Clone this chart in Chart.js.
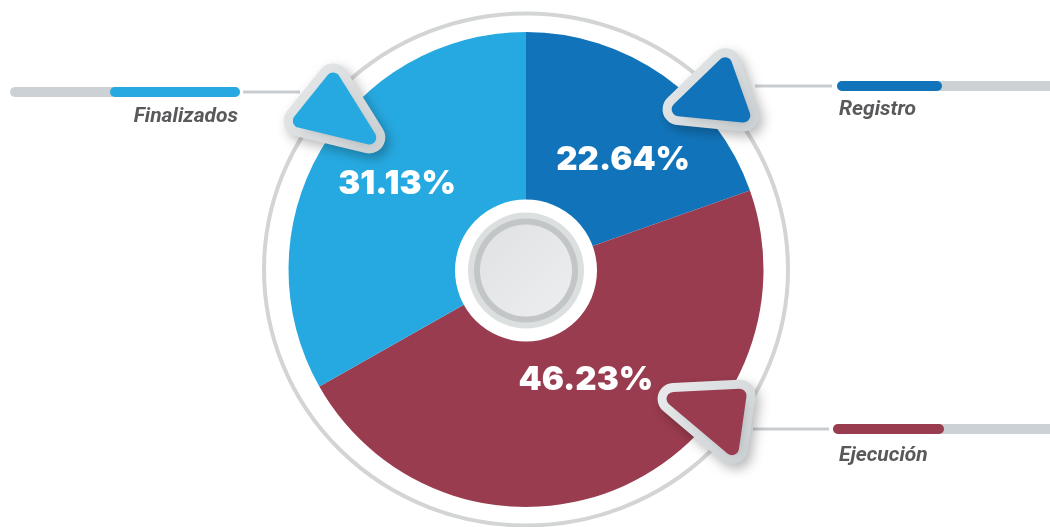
<!DOCTYPE html>
<html>
<head>
<meta charset="utf-8">
<script src="https://cdn.jsdelivr.net/npm/chart.js@4.4.1/dist/chart.umd.min.js"></script>
<style>
  html, body { margin: 0; padding: 0; background: #fff; }
  #wrap { width: 1050px; height: 527px; }
</style>
</head>
<body>
<div id="wrap"><canvas id="pie" width="1050" height="527"></canvas></div>
<script>
// datos del gráfico
const categories = ['Registro', 'Ejecución', 'Finalizados'];
// porcentajes impresos en el gráfico
const percentages = [22.64, 46.23, 31.13];
// tamaño de las porciones tal como están dibujadas en la imagen (no coincide del todo con el texto)
const sliceShares = [19.6, 47.2, 33.2];
const sliceColors = ['#1174ba', '#9a3c4f', '#26a9e0'];

// posición de las etiquetas (ángulo desde arriba en grados, radio relativo)
const labelSpots = [
    { angle: 41.7, r: 0.615 },
    { angle: 151.6, r: 0.53 },
    { angle: 303.4, r: 0.65 }
];

// flechas (triángulos) relativos al centro del pastel
const pointers = [
    [[146, -158], [201, -212], [223, -150]],
    [[141, 127], [219, 122], [209, 185]],
    [[-233, -147], [-193, -197], [-151, -128]]
];

// leyenda: barra y texto
const legendItems = [
    { bar: [837, 1070], fill: [837, 942], y: 86, lead: [755, 832], text: [839, 115], align: 'left' },
    { bar: [833, 1070], fill: [833, 944], y: 429, lead: [753, 829], text: [839, 461], align: 'left' },
    { bar: [10, 240], fill: [110, 240], y: 92, lead: [243, 300], text: [238, 122], align: 'right' }
];

function shrink(pts, d) {
    const cx = (pts[0][0] + pts[1][0] + pts[2][0]) / 3;
    const cy = (pts[0][1] + pts[1][1] + pts[2][1]) / 3;
    return pts.map(p => {
        const dx = cx - p[0], dy = cy - p[1];
        const len = Math.hypot(dx, dy);
        return [p[0] + dx / len * d, p[1] + dy / len * d];
    });
}

function triPath(ctx, pts) {
    ctx.beginPath();
    ctx.moveTo(pts[0][0], pts[0][1]);
    ctx.lineTo(pts[1][0], pts[1][1]);
    ctx.lineTo(pts[2][0], pts[2][1]);
    ctx.closePath();
}

function drawPointer(ctx, cx, cy, rel, color) {
    const rad = 7, border = 9;
    const visible = rel.map(p => [cx + p[0], cy + p[1]]);
    const core = shrink(visible, rad);
    const xs = visible.map(p => p[0]), ys = visible.map(p => p[1]);
    const grad = ctx.createLinearGradient(Math.min(...xs), Math.min(...ys), Math.max(...xs), Math.max(...ys));
    grad.addColorStop(0, '#e6e8e9');
    grad.addColorStop(1, '#cdd2d4');

    ctx.save();
    ctx.lineJoin = 'round';
    ctx.shadowColor = 'rgba(0,0,0,0.28)';
    ctx.shadowBlur = 12;
    ctx.shadowOffsetX = 4;
    ctx.shadowOffsetY = 5;
    triPath(ctx, core);
    ctx.lineWidth = 2 * (rad + border);
    ctx.strokeStyle = grad;
    ctx.fillStyle = grad;
    ctx.stroke();
    ctx.fill();
    ctx.restore();

    ctx.save();
    ctx.lineJoin = 'round';
    triPath(ctx, core);
    ctx.lineWidth = 2 * rad;
    ctx.strokeStyle = color;
    ctx.fillStyle = color;
    ctx.stroke();
    ctx.fill();
    ctx.restore();
}

function bar(ctx, x1, x2, y, w, color) {
    ctx.beginPath();
    ctx.moveTo(x1 + w / 2, y);
    ctx.lineTo(x2 - w / 2, y);
    ctx.lineWidth = w;
    ctx.lineCap = 'round';
    ctx.strokeStyle = color;
    ctx.stroke();
}

const decoPlugin = {
    id: 'deco',
    beforeDatasetsDraw(chart) {
        const ctx = chart.ctx;
        const arc = chart.getDatasetMeta(0).data[0];
        const { x, y } = arc.getProps(['x', 'y'], true);

        ctx.save();
        // anillo exterior
        ctx.beginPath();
        ctx.ellipse(x, y, 262, 256, 0, 0, Math.PI * 2);
        ctx.lineWidth = 4;
        ctx.strokeStyle = '#d3d5d5';
        ctx.stroke();

        // líneas guía y barras de leyenda
        legendItems.forEach((it, i) => {
            ctx.beginPath();
            ctx.moveTo(it.lead[0], it.y);
            ctx.lineTo(it.lead[1], it.y);
            ctx.lineWidth = 3;
            ctx.lineCap = 'butt';
            ctx.strokeStyle = '#c9cdd0';
            ctx.stroke();

            bar(ctx, it.bar[0], it.bar[1], it.y, 10, '#cbd1d4');
            bar(ctx, it.fill[0], it.fill[1], it.y, 10, sliceColors[i]);

            ctx.font = 'italic 700 21px Roboto, "Open Sans", sans-serif';
            ctx.fillStyle = '#58595b';
            ctx.textAlign = it.align;
            ctx.textBaseline = 'alphabetic';
            ctx.fillText(categories[i], it.text[0], it.text[1]);
        });
        ctx.restore();
    },
    afterDatasetsDraw(chart) {
        const ctx = chart.ctx;
        const meta = chart.getDatasetMeta(0);
        const { x, y, outerRadius } = meta.data[0].getProps(['x', 'y', 'outerRadius'], true);

        // círculo central
        ctx.save();
        ctx.beginPath();
        ctx.arc(x, y + 1, 71, 0, Math.PI * 2);
        ctx.fillStyle = '#ffffff';
        ctx.fill();
        ctx.beginPath();
        ctx.arc(x, y + 1, 58, 0, Math.PI * 2);
        ctx.fillStyle = '#dcdfe0';
        ctx.fill();
        ctx.beginPath();
        ctx.arc(x, y + 1, 52, 0, Math.PI * 2);
        ctx.fillStyle = '#c3c6c6';
        ctx.fill();
        const g = ctx.createLinearGradient(x - 46, y - 46, x + 46, y + 46);
        g.addColorStop(0, '#dfe1e2');
        g.addColorStop(1, '#eceeef');
        ctx.beginPath();
        ctx.arc(x, y + 1, 46, 0, Math.PI * 2);
        ctx.fillStyle = g;
        ctx.fill();
        ctx.restore();

        // porcentajes
        ctx.save();
        ctx.font = '900 33px Inter, Lato, "Open Sans", sans-serif';
        ctx.fillStyle = '#ffffff';
        ctx.textAlign = 'center';
        ctx.textBaseline = 'middle';
        percentages.forEach((v, i) => {
            const a = (labelSpots[i].angle - 90) * Math.PI / 180;
            const r = labelSpots[i].r * outerRadius;
            ctx.fillText(v.toFixed(2) + '%', x + Math.cos(a) * r, y + Math.sin(a) * r);
        });
        ctx.restore();

        // flechas
        pointers.forEach((p, i) => drawPointer(ctx, x, y, p, sliceColors[i]));
    }
};

new Chart(document.getElementById('pie'), {
    type: 'pie',
    data: {
        labels: categories,
        datasets: [{
            data: sliceShares,
            backgroundColor: sliceColors,
            borderWidth: 0
        }]
    },
    options: {
        responsive: false,
        animation: false,
        layout: { padding: { left: 288, right: 286, top: 32, bottom: 20 } },
        plugins: {
            legend: { display: false },
            tooltip: { enabled: false }
        }
    },
    plugins: [decoPlugin]
});
</script>
</body>
</html>
